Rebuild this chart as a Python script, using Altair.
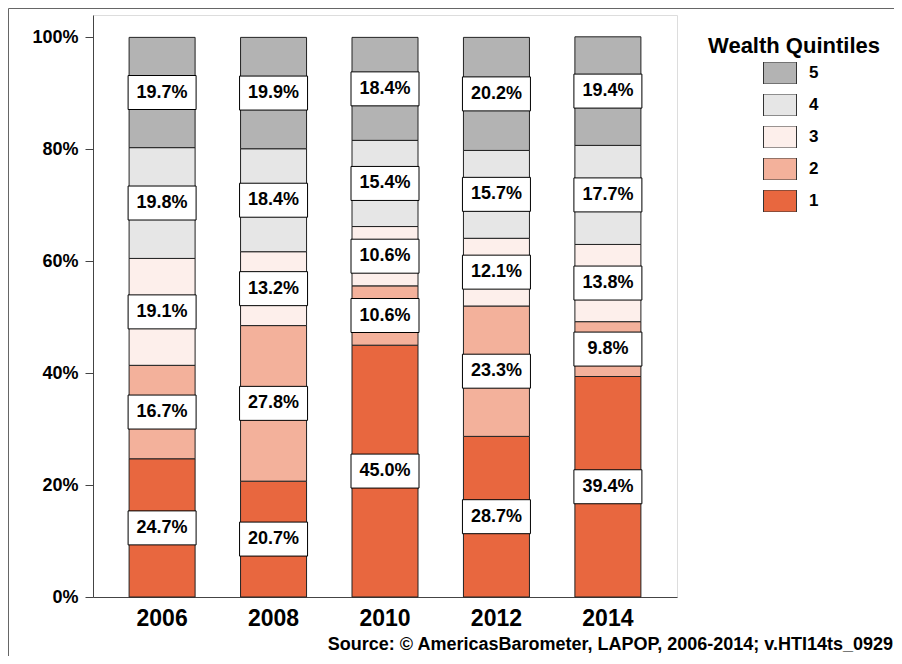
import altair as alt
import pandas as pd

years = ["2006", "2008", "2010", "2012", "2014"]
quintiles = ["1", "2", "3", "4", "5"]
q1 = [24.7, 20.7, 45.0, 28.7, 39.4]
q2 = [16.7, 27.8, 10.6, 23.3, 9.8]
q3 = [19.1, 13.2, 10.6, 12.1, 13.8]
q4 = [19.8, 18.4, 15.4, 15.7, 17.7]
q5 = [19.7, 19.9, 18.4, 20.2, 19.4]
colors = ["#E8673F", "#F3B19B", "#FDEFEB", "#E6E6E6", "#B3B3B3"]
source_text = "Source: \u00a9 AmericasBarometer, LAPOP, 2006-2014; v.HTI14ts_0929"
legend_title = "Wealth Quintiles"

F = "Liberation Sans"

rows = []
for i, y in enumerate(years):
    base = 0.0
    for q, series in zip(quintiles, [q1, q2, q3, q4, q5]):
        v = series[i]
        rows.append(dict(year=y, q=q, v=v, lo=base, hi=base + v,
                         mid=base + v / 2, label=f"{v:.1f}%"))
        base += v
df = pd.DataFrame(rows)

xenc = alt.X("year:N", sort=years,
             scale=alt.Scale(paddingInner=0, paddingOuter=0.12),
             axis=alt.Axis(title=None, labelAngle=0, ticks=False, labelFontSize=23,
                           labelFontWeight="bold", labelPadding=10, domainColor="#444",
                           labelColor="black", labelFont=F))
yscale = alt.Scale(domain=[0, 104], nice=False)

bars = alt.Chart(df).mark_bar(size=66, stroke="#222", strokeWidth=1).encode(
    x=xenc,
    y=alt.Y("lo:Q", scale=yscale,
            axis=alt.Axis(values=[0, 20, 40, 60, 80, 100], labelExpr="datum.value + '%'",
                          title=None, grid=False, tickSize=8, tickColor="#444",
                          domainColor="#444", labelFontSize=18, labelFontWeight="bold",
                          labelPadding=7, labelColor="black", labelFont=F)),
    y2="hi:Q",
    color=alt.Color("q:N",
                    scale=alt.Scale(domain=quintiles[::-1], range=colors[::-1]),
                    legend=alt.Legend(title=None, orient="none", legendX=670, legendY=47,
                                      symbolType="M-1,-0.667L1,-0.667L1,0.667L-1,0.667Z",
                                      symbolSize=1089, symbolStrokeColor="#333",
                                      symbolStrokeWidth=1, symbolOpacity=1,
                                      clipHeight=22, rowPadding=10, labelFontSize=17,
                                      labelFontWeight="bold", labelFont=F, labelOffset=12,
                                      labelColor="black", padding=0)),
)

boxes = alt.Chart(df).mark_point(
    shape="M-1,-0.5L1,-0.5L1,0.5L-1,0.5Z", size=4624, filled=True, fill="white",
    stroke="black", strokeWidth=1, opacity=1
).encode(x=alt.X("year:N", sort=years), y=alt.Y("mid:Q", scale=yscale))

texts = alt.Chart(df).mark_text(fontSize=18, fontWeight="bold", font=F, color="black").encode(
    x=alt.X("year:N", sort=years), y=alt.Y("mid:Q", scale=yscale), text="label:N")

one = alt.Data(values=[{}])
title_t = alt.Chart(one).mark_text(text=legend_title, align="center", baseline="middle",
                                   fontSize=22, fontWeight="bold", font=F, color="black").encode(
    x=alt.value(701), y=alt.value(31))
src_t = alt.Chart(one).mark_text(text=source_text, align="right", baseline="middle",
                                 fontSize=18, fontWeight="bold", font=F, color="black").encode(
    x=alt.value(800), y=alt.value(630))
frame_top = alt.Chart(one).mark_rule(color="#666", strokeWidth=1).encode(
    x=alt.value(-84.5), x2=alt.value(900), y=alt.value(-6.5))
frame_left = alt.Chart(one).mark_rule(color="#666", strokeWidth=1).encode(
    x=alt.value(-84.5), y=alt.value(-6.5), y2=alt.value(700))

chart = alt.layer(bars, boxes, texts, title_t, src_t, frame_top, frame_left).properties(
    width=584, height=582,
    padding={"left": 85, "top": 7, "right": 217, "bottom": 59},
    autosize=alt.AutoSizeParams(type="none"),
).configure_view(stroke=None).configure(font=F)

chart.save("out.html", embed_options={"renderer": "svg", "actions": False})
